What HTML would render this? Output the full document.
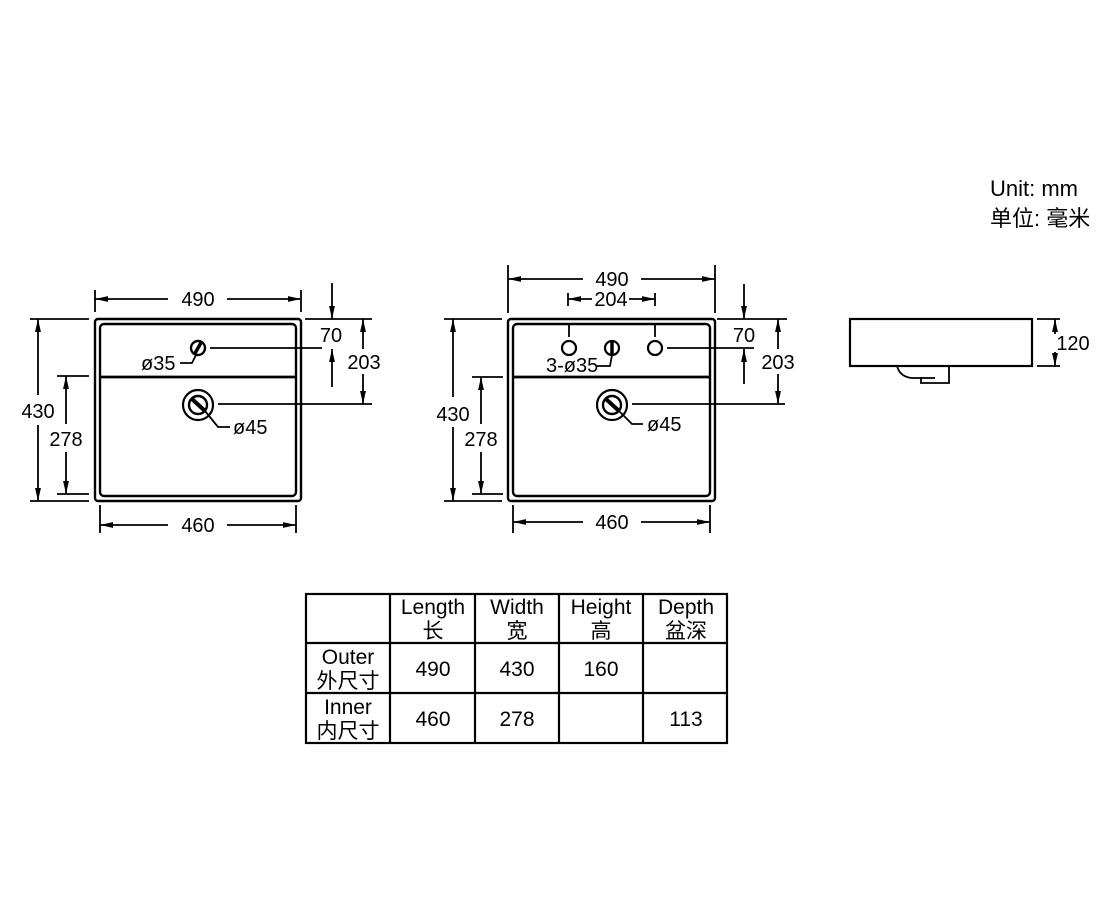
<!DOCTYPE html>
<html><head><meta charset="utf-8"><style>
html,body{margin:0;padding:0;background:#fff;width:1120px;height:920px;overflow:hidden}
svg{display:block}
text{font-family:"Liberation Sans","Noto Sans CJK SC",sans-serif;fill:#000}
</style></head><body>
<svg width="1120" height="920" viewBox="0 0 1120 920" xmlns="http://www.w3.org/2000/svg">
<defs>
<marker id="a" viewBox="0 0 12 6" refX="12" refY="3" markerWidth="13" markerHeight="7" orient="auto-start-reverse" markerUnits="userSpaceOnUse"><path d="M0,0.3 L12,3 L0,5.7z" fill="#000"/></marker>
</defs>
<g stroke="#000" fill="none" stroke-width="1.8">
<!-- LEFT -->
<rect x="95" y="319" width="206" height="182" rx="3" stroke-width="2.4"/>
<rect x="100" y="324" width="196" height="172" rx="4" stroke-width="2.4"/>
<line x1="101" y1="377" x2="296" y2="377" stroke-width="2.8"/>
<circle cx="198" cy="348" r="7" stroke-width="2.4"/>
<line x1="194" y1="355" x2="202" y2="341" stroke-width="3.5"/>
<path d="M196,355 L192,363 L180,363"/>
<line x1="210" y1="348" x2="322" y2="348"/>
<circle cx="198" cy="405" r="15" stroke-width="2.2"/>
<circle cx="198" cy="405" r="9" stroke-width="2.4"/>
<line x1="192" y1="399" x2="205" y2="411" stroke-width="4"/>
<path d="M205,411 L218,427 L230,427"/>
<line x1="218" y1="404" x2="372" y2="404"/>
<line x1="95" y1="290" x2="95" y2="312"/><line x1="301" y1="290" x2="301" y2="312"/>
<line x1="95" y1="299" x2="168" y2="299" marker-start="url(#a)"/>
<line x1="227" y1="299" x2="301" y2="299" marker-end="url(#a)"/>
<line x1="30" y1="319" x2="89" y2="319"/><line x1="30" y1="501" x2="89" y2="501"/>
<line x1="38" y1="319" x2="38" y2="395" marker-start="url(#a)"/>
<line x1="38" y1="425" x2="38" y2="501" marker-end="url(#a)"/>
<line x1="57" y1="376" x2="89" y2="376"/><line x1="57" y1="494" x2="89" y2="494"/>
<line x1="66" y1="376" x2="66" y2="424" marker-start="url(#a)"/>
<line x1="66" y1="452" x2="66" y2="494" marker-end="url(#a)"/>
<line x1="100" y1="505" x2="100" y2="533"/><line x1="296" y1="505" x2="296" y2="533"/>
<line x1="100" y1="525" x2="168" y2="525" marker-start="url(#a)"/>
<line x1="227" y1="525" x2="296" y2="525" marker-end="url(#a)"/>
<line x1="305" y1="319" x2="372" y2="319"/>
<line x1="332" y1="283" x2="332" y2="319" marker-end="url(#a)"/>
<line x1="332" y1="387" x2="332" y2="349" marker-end="url(#a)"/>
<line x1="363" y1="319" x2="363" y2="349" marker-start="url(#a)"/>
<line x1="363" y1="374" x2="363" y2="404" marker-end="url(#a)"/>
<!-- MIDDLE -->
<rect x="508" y="319" width="207" height="182" rx="3" stroke-width="2.4"/>
<rect x="513" y="324" width="197" height="172" rx="4" stroke-width="2.4"/>
<line x1="514" y1="377" x2="709" y2="377" stroke-width="2.8"/>
<circle cx="569" cy="348" r="7" stroke-width="2.2"/>
<circle cx="612" cy="348" r="7" stroke-width="2.2"/>
<circle cx="655" cy="348" r="7" stroke-width="2.2"/>
<line x1="612" y1="341" x2="612" y2="355" stroke-width="3.5"/>
<path d="M612,355 L610,366 L597,366"/>
<line x1="569" y1="325" x2="569" y2="337"/><line x1="655" y1="325" x2="655" y2="337"/>
<line x1="667" y1="348" x2="754" y2="348"/>
<circle cx="612" cy="405" r="15" stroke-width="2.2"/>
<circle cx="612" cy="405" r="9" stroke-width="2.4"/>
<line x1="606" y1="399" x2="619" y2="411" stroke-width="4"/>
<path d="M619,411 L632,424 L643,424"/>
<line x1="632" y1="404" x2="785" y2="404"/>
<line x1="508" y1="265" x2="508" y2="313"/><line x1="715" y1="265" x2="715" y2="313"/>
<line x1="508" y1="279" x2="583" y2="279" marker-start="url(#a)"/>
<line x1="641" y1="279" x2="715" y2="279" marker-end="url(#a)"/>
<line x1="568" y1="293" x2="568" y2="306"/><line x1="655" y1="293" x2="655" y2="306"/>
<line x1="568" y1="299" x2="592" y2="299" marker-start="url(#a)"/>
<line x1="629" y1="299" x2="655" y2="299" marker-end="url(#a)"/>
<line x1="444" y1="319" x2="502" y2="319"/><line x1="444" y1="501" x2="502" y2="501"/>
<line x1="453" y1="319" x2="453" y2="397" marker-start="url(#a)"/>
<line x1="453" y1="427" x2="453" y2="501" marker-end="url(#a)"/>
<line x1="472" y1="377" x2="503" y2="377"/><line x1="472" y1="494" x2="503" y2="494"/>
<line x1="481" y1="377" x2="481" y2="424" marker-start="url(#a)"/>
<line x1="481" y1="452" x2="481" y2="494" marker-end="url(#a)"/>
<line x1="513" y1="505" x2="513" y2="533"/><line x1="710" y1="505" x2="710" y2="533"/>
<line x1="513" y1="522" x2="583" y2="522" marker-start="url(#a)"/>
<line x1="641" y1="522" x2="710" y2="522" marker-end="url(#a)"/>
<line x1="717" y1="319" x2="787" y2="319"/>
<line x1="744" y1="284" x2="744" y2="319" marker-end="url(#a)"/>
<line x1="744" y1="384" x2="744" y2="349" marker-end="url(#a)"/>
<line x1="778" y1="319" x2="778" y2="349" marker-start="url(#a)"/>
<line x1="778" y1="374" x2="778" y2="404" marker-end="url(#a)"/>
<!-- SIDE -->
<rect x="850" y="319" width="182" height="47" stroke-width="2.2"/>
<path d="M897,366 Q900,377 912,378 L921,378 L921,383 L949,383 L949,366" stroke-width="1.8"/>
<line x1="921" y1="378" x2="935" y2="378"/>
<line x1="1037" y1="319" x2="1060" y2="319"/><line x1="1037" y1="366" x2="1060" y2="366"/>
<line x1="1055" y1="319" x2="1055" y2="334" marker-start="url(#a)"/>
<line x1="1055" y1="352" x2="1055" y2="366" marker-end="url(#a)"/>
<!-- TABLE -->
<rect x="306" y="594" width="421" height="149" stroke-width="2.2"/>
<line x1="390" y1="594" x2="390" y2="743" stroke-width="2.2"/>
<line x1="475" y1="594" x2="475" y2="743" stroke-width="2.2"/>
<line x1="559" y1="594" x2="559" y2="743" stroke-width="2.2"/>
<line x1="643" y1="594" x2="643" y2="743" stroke-width="2.2"/>
<line x1="306" y1="643" x2="727" y2="643" stroke-width="2.2"/>
<line x1="306" y1="693" x2="727" y2="693" stroke-width="2.2"/>
</g>
<g font-size="20">
<text x="198" y="306" text-anchor="middle">490</text>
<text x="38" y="418" text-anchor="middle">430</text>
<text x="66" y="446" text-anchor="middle">278</text>
<text x="198" y="532" text-anchor="middle">460</text>
<text x="331" y="342" text-anchor="middle">70</text>
<text x="364" y="369" text-anchor="middle">203</text>
<text x="141" y="370">ø35</text>
<text x="233" y="434">ø45</text>
<text x="612" y="286" text-anchor="middle">490</text>
<text x="611" y="306" text-anchor="middle">204</text>
<text x="453" y="421" text-anchor="middle">430</text>
<text x="481" y="446" text-anchor="middle">278</text>
<text x="612" y="529" text-anchor="middle">460</text>
<text x="744" y="342" text-anchor="middle">70</text>
<text x="778" y="369" text-anchor="middle">203</text>
<text x="546" y="372">3-ø35</text>
<text x="647" y="431">ø45</text>
<text x="1073" y="350" text-anchor="middle">120</text>
<text x="990" y="196" font-size="22">Unit: mm</text>
<text x="990" y="226" font-size="22">单位: 毫米</text>
<g text-anchor="middle" font-size="21">
<text x="433" y="614">Length</text><text x="433" y="638">长</text>
<text x="517" y="614">Width</text><text x="517" y="638">宽</text>
<text x="601" y="614">Height</text><text x="601" y="638">高</text>
<text x="686" y="614">Depth</text><text x="686" y="638">盆深</text>
<text x="348" y="664">Outer</text><text x="348" y="688">外尺寸</text>
<text x="348" y="714">Inner</text><text x="348" y="738">内尺寸</text>
<text x="433" y="676">490</text><text x="517" y="676">430</text><text x="601" y="676">160</text>
<text x="433" y="726">460</text><text x="517" y="726">278</text><text x="686" y="726">113</text>
</g>
</g>
</svg>
</body></html>
